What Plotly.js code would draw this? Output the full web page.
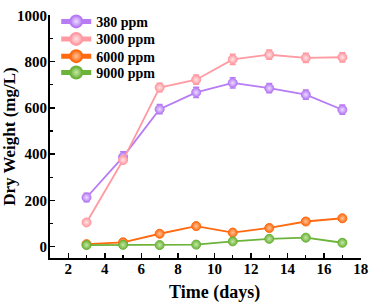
<!DOCTYPE html>
<html>
<head>
<meta charset="utf-8">
<script src="https://cdn.plot.ly/plotly-3.0.1.min.js"></script>
<style>html,body{margin:0;padding:0;background:#fff;}#chart{width:370px;height:306px;}</style>
</head>
<body>
<div id="chart"></div>
<script>
const days = [3, 5, 7, 9, 11, 13, 15, 17];
const names = ['380 ppm', '3000 ppm', '6000 ppm', '9000 ppm'];
const dw380 = [212, 388, 594, 667, 708, 685, 657, 592];
const dw3000 = [104, 374, 688, 722, 810, 830, 816, 819];
const dw6000 = [10, 18, 55, 88, 60, 80, 108, 122];
const dw9000 = [6, 7, 6, 8, 22, 33, 38, 16];
const err380 = [18, 22, 20, 22, 22, 20, 20, 20];
const err3000 = [8, 12, 18, 20, 22, 20, 20, 20];
const err6000 = [4, 4, 5, 6, 5, 5, 6, 6];
const err9000 = [3, 3, 3, 3, 4, 4, 4, 4];
const colors = ['#b77cf5', '#ff9aa2', '#ff6a10', '#6cb33a'];
const light = ['#ecdcff', '#ffe4e6', '#ffc49a', '#c6e8a6'];

const series = [dw380, dw3000, dw6000, dw9000];
const errs = [err380, err3000, err6000, err9000];
const legendIds = ['legend', 'legend2', 'legend3', 'legend4'];
const traces = series.map((s, i) => ({
  x: days, y: s, name: names[i], type: 'scatter', mode: 'lines+markers',
  legend: legendIds[i],
  line: {color: colors[i], width: 1.8},
  marker: {symbol: 'circle', size: 9, color: colors[i],
           gradient: {type: 'radial', color: light[i]},
           line: {color: colors[i], width: 1}},
  error_y: {type: 'data', array: errs[i], visible: true, color: colors[i], thickness: 1.5, width: 3}
}));

const font = {family: 'Liberation Serif, Times New Roman, serif', color: '#000'};
const legendY = [0.972, 0.900, 0.829, 0.762];
const layout = {
  width: 370, height: 306,
  margin: {l: 50, r: 9, t: 6, b: 48},
  paper_bgcolor: '#fff', plot_bgcolor: '#fff',
  showlegend: true,
  xaxis: {
    range: [1, 18.02], tickvals: [2, 4, 6, 8, 10, 12, 14, 16, 18],
    ticks: 'inside', ticklen: 5, tickwidth: 1.5, tickcolor: '#000',
    showline: true, linecolor: '#000', linewidth: 2, showgrid: false, zeroline: false,
    minor: {dtick: 1, tick0: 1, ticks: 'inside', ticklen: 3, tickwidth: 1.2, tickcolor: '#000', showgrid: false},
    tickfont: Object.assign({size: 15, weight: 'bold'}, font),
    ticklabelstandoff: -4
  },
  yaxis: {
    range: [-50, 1002], tickvals: [0, 200, 400, 600, 800, 1000],
    ticks: 'inside', ticklen: 5, tickwidth: 1.5, tickcolor: '#000',
    showline: true, linecolor: '#000', linewidth: 2, showgrid: false, zeroline: false,
    minor: {dtick: 100, tick0: 0, ticks: 'inside', ticklen: 3, tickwidth: 1.2, tickcolor: '#000', showgrid: false},
    tickfont: Object.assign({size: 15, weight: 'bold'}, font),
    ticklabelstandoff: -2,
    title: {text: 'Dry Weight (mg/L)', font: Object.assign({size: 17, weight: 'bold'}, font), standoff: 3}
  },
  annotations: [{
    text: 'Time (days)', xref: 'paper', yref: 'paper', x: 0.53, y: -0.143,
    xanchor: 'center', yanchor: 'middle', showarrow: false,
    font: Object.assign({size: 18, weight: 'bold'}, font)
  }]
};
legendIds.forEach((id, i) => {
  layout[id] = {x: 0.02, y: legendY[i], xanchor: 'left', yanchor: 'middle',
    bgcolor: 'rgba(0,0,0,0)', font: Object.assign({size: 14, weight: 'bold'}, font),
    itemsizing: 'constant'};
});
Plotly.newPlot('chart', traces, layout, {displayModeBar: false, staticPlot: true});
</script>
</body>
</html>
